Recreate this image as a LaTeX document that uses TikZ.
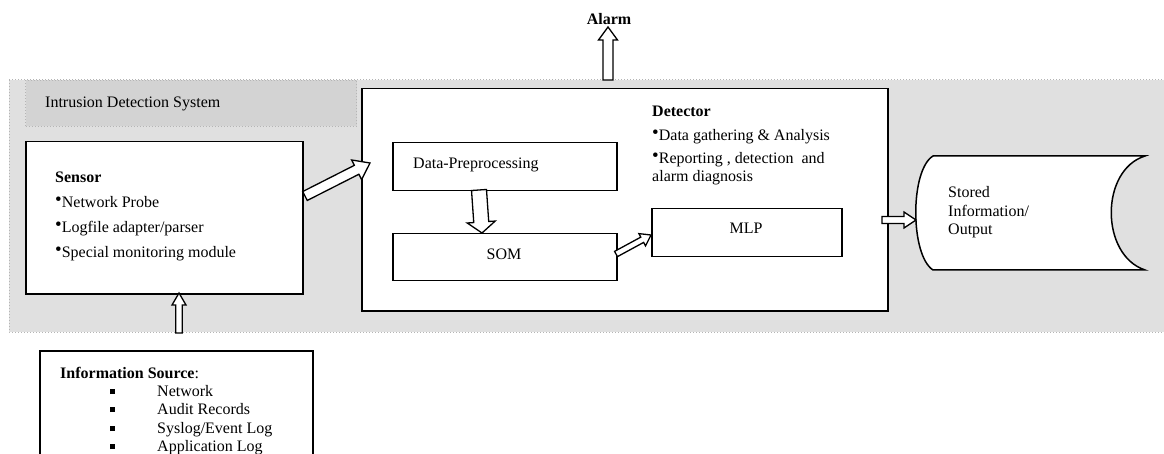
\documentclass[tikz,border=0pt]{standalone}
\usepackage{fontspec}
\setmainfont{Liberation Serif}
\usetikzlibrary{calc}
\definecolor{bggray}{HTML}{E0E0E0}
\definecolor{lblgray}{HTML}{D3D3D3}
\definecolor{dotgray}{HTML}{B5B5B5}
% block arrow: from, to, half shaft, half head, head length
\newcommand\blockarrow[5]{%
  \draw[barrow] let \p1=(#1), \p2=(#2), \n1={atan2(\y2-\y1,\x2-\x1)} in
    ($(\p1)+(\n1+90:#3)$) -- ($(\p2)+(\n1+180:#5)+(\n1+90:#3)$) --
    ($(\p2)+(\n1+180:#5)+(\n1+90:#4)$) -- (\p2) --
    ($(\p2)+(\n1+180:#5)+(\n1-90:#4)$) -- ($(\p2)+(\n1+180:#5)+(\n1-90:#3)$) --
    ($(\p1)+(\n1-90:#3)$) -- cycle;}
\newcommand\mybul{{\fontsize{19}{19}\selectfont\raisebox{2.5pt}{•}}}
\newcommand\mysq{\rule[2pt]{5pt}{5pt}}
\begin{document}
\begin{tikzpicture}[x=1pt,y=-1pt,
  box/.style={draw, line width=1.5pt, fill=white, anchor=north west, inner sep=0pt},
  txt/.style={anchor=base west, inner sep=0pt, font=\fontsize{16}{19}\selectfont},
  ctxt/.style={anchor=base, inner sep=0pt, font=\fontsize{16}{19}\selectfont},
  barrow/.style={draw, line width=1.3pt, fill=white, line join=miter}]

\useasboundingbox (0,0) rectangle (1164,454);
\clip (0,0) rectangle (1164,454);

% system background
\path[fill=bggray, draw=dotgray, dotted, line width=1pt] (9,80) rectangle (1175,332);
\node[anchor=north west, fill=lblgray, draw=dotgray, dotted, line width=1pt,
      minimum width=331pt, minimum height=46pt, inner sep=0pt] (ids) at (25,80) {};
\node[txt] (idst) at (45,108) {Intrusion Detection System};

% sensor
\node[box, minimum width=277pt, minimum height=152pt] (sensor) at (25,141) {};
\node[txt] (sens1) at (55,183) {\textbf{Sensor}};
\node[txt] (sens2) at (55,208) {\mybul Network Probe};
\node[txt] (sens3) at (55,233) {\mybul Logfile adapter/parser};
\node[txt] (sens4) at (55,258) {\mybul Special monitoring module};

% detector
\node[box, minimum width=526pt, minimum height=222pt] (det) at (361,88) {};
\node[txt] (det1) at (652,117) {\textbf{Detector}};
\node[txt] (det2) at (652,141) {\mybul Data gathering \& Analysis};
\node[txt] (det3) at (652,164) {\mybul Reporting , detection\ \ and};
\node[txt] (det4) at (652,182) {alarm diagnosis};

\node[box, minimum width=224pt, minimum height=48pt] (dp) at (392,142) {};
\node[txt] (dpt) at (413,169) {Data-Preprocessing};
\node[box, minimum width=224pt, minimum height=47pt] (som) at (392,233) {};
\node[ctxt] (somt) at (504,260) {SOM};
\node[box, minimum width=190pt, minimum height=48pt] (mlp) at (651,208) {};
\node[ctxt] (mlpt) at (746,234) {MLP};

% stored information
\draw[fill=white, line width=1.5pt] (933,156) -- (1145,156)
  .. controls (1100,170) and (1100,255) .. (1145,270) -- (933,270)
  .. controls (910,255) and (910,170) .. (933,156) -- cycle;
\coordinate (storein) at (916,220);
\node[txt] (st1) at (948,198) {Stored};
\node[txt] (st2) at (948,217) {Information/};
\node[txt] (st3) at (948,235) {Output};

% information source
\draw[line width=1.5pt, fill=white] (40,351) rectangle (313,475);
\node[txt] (is0) at (60,378) {\textbf{Information Source}:};
\node[txt] (isb1) at (110,396) {\mysq};
\node[txt] (isb2) at (110,414) {\mysq};
\node[txt] (isb3) at (110,433) {\mysq};
\node[txt] (isb4) at (110,451) {\mysq};
\node[txt] (is1) at (157,396) {Network};
\node[txt] (is2) at (157,414) {Audit Records};
\node[txt] (is3) at (157,433) {Syslog/Event Log};
\node[txt] (is4) at (157,451) {Application Log};

% alarm
\node[ctxt, font=\fontsize{16}{19}\selectfont\bfseries, inner sep=1pt] (alarm) at (609,25) {Alarm};

% connector end points
\coordinate (alarmbase) at (608,80);
\coordinate (alarmtip) at (608,27);
\coordinate (sout) at (305,196);
\coordinate (din) at (370,163);
\coordinate (itail) at (179,333);
\coordinate (ihead) at (179,293);
\coordinate (dpout) at (479,190);
\coordinate (somin) at (482,233);
\coordinate (somout) at (616,254);
\coordinate (mlpin) at (651,235);
\coordinate (mlpout) at (882,220);

% block arrows
\blockarrow{alarmbase}{alarmtip}{5pt}{9.5pt}{13pt}
\blockarrow{sout}{din}{5pt}{11pt}{15pt}
\blockarrow{itail}{ihead}{3.3pt}{7pt}{12pt}
\blockarrow{dpout}{somin}{7.5pt}{14pt}{11pt}
\blockarrow{somout}{mlpin}{3pt}{7pt}{10pt}
\blockarrow{mlpout}{storein}{3.5pt}{8pt}{12pt}
\end{tikzpicture}
\end{document}
